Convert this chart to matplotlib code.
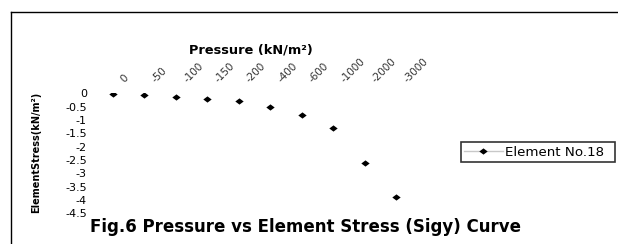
import matplotlib
matplotlib.use("Agg")
import matplotlib.pyplot as plt
from matplotlib.lines import Line2D
from matplotlib.transforms import ScaledTranslation

pressure_labels = ['0', '-50', '-100', '-150', '-200', '-400', '-600', '-1000', '-2000', '-3000']
stress = [-0.02, -0.07, -0.13, -0.21, -0.28, -0.52, -0.81, -1.31, -2.6, -3.89]
y_ticks = [0, -0.5, -1, -1.5, -2, -2.5, -3, -3.5, -4, -4.5]
y_tick_labels = ['0', '-0.5', '-1', '-1.5', '-2', '-2.5', '-3', '-3.5', '-4', '-4.5']
series_name = 'Element No.18'

W, H = 618, 244
fig = plt.figure(figsize=(W / 100, H / 100), dpi=100)
fig.patch.set_facecolor('white')

# plot area in pixels
left_px, right_px = 97.3, 411.7
top_px, bot_px = 93.3, 213.3
ax = fig.add_axes([left_px / W, 1 - bot_px / H, (right_px - left_px) / W, (bot_px - top_px) / H])
ax.set_facecolor('none')

diamond = [(-1, 0), (0, 0.75), (1, 0), (0, -0.75), (-1, 0)]
x = list(range(len(pressure_labels)))
ax.plot(x, stress, linestyle='none', marker=diamond, markersize=6,
        color='black', markeredgewidth=0)

ax.set_xlim(-0.5, len(pressure_labels) - 0.5)
ax.set_ylim(-4.5, 0)
for s in ax.spines.values():
    s.set_visible(False)

ax.set_yticks(y_ticks)
ax.set_yticklabels(y_tick_labels, fontsize=8, family='DejaVu Sans', color='black')
ax.tick_params(axis='y', length=0, pad=7.5)

ax.xaxis.tick_top()
ax.set_xticks(x)
ax.set_xticklabels(pressure_labels, fontsize=7.5, family='DejaVu Sans', color='#333333',
                   rotation=45, ha='left', va='center', rotation_mode='anchor')
ax.tick_params(axis='x', length=0, pad=9)
off = ScaledTranslation(9 / 100, 0, fig.dpi_scale_trans)
for lab in ax.get_xticklabels():
    lab.set_transform(lab.get_transform() + off)

# titles
fig.text(251 / W, 1 - 50 / H, 'Pressure (kN/m²)', fontsize=9.3, fontweight='bold',
         family='DejaVu Sans', ha='center', va='center')
fig.text(36 / W, 1 - 152.5 / H, 'ElementStress(kN/m²)', fontsize=7, fontweight='bold',
         family='DejaVu Sans', ha='center', va='center', rotation=90)
fig.text(305.5 / W, 1 - 232 / H, 'Fig.6 Pressure vs Element Stress (Sigy) Curve', fontsize=12.0,
         fontweight='bold', family='DejaVu Sans', ha='center', va='baseline')

# legend
handle = Line2D([0], [0], color='#c8c8c8', linewidth=1, marker=diamond, markersize=6,
                markerfacecolor='black', markeredgewidth=0)
leg = fig.legend([handle], [series_name], loc='center left', mode='expand',
                 bbox_to_anchor=(460.7 / W, 1 - 152 / H, (615 - 460.7) / W, 0),
                 bbox_transform=fig.transFigure,
                 fancybox=False, frameon=True, edgecolor='black',
                 handlelength=2.9, handletextpad=0.2, borderpad=0.25, borderaxespad=0,
                 prop={'family': 'DejaVu Sans', 'size': 9.6})
leg.get_frame().set_linewidth(1.2)

# chart border (left and top visible)
fig.add_artist(Line2D([10.7 / W, 10.7 / W], [0, 1 - 11.7 / H], transform=fig.transFigure,
                      color='black', linewidth=1.0))
fig.add_artist(Line2D([10.7 / W, 1], [1 - 11.7 / H, 1 - 11.7 / H], transform=fig.transFigure,
                      color='black', linewidth=1.0))

fig.savefig('out.png', dpi=100)
